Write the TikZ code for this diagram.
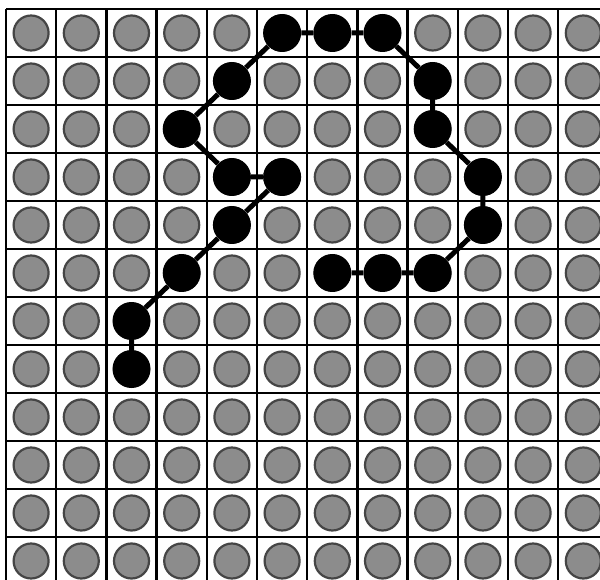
\documentclass[tikz,border=0pt]{standalone}
\definecolor{dotgray}{HTML}{8C8C8C}
\definecolor{rimgray}{HTML}{454545}
\tikzset{
  cell/.style={circle, draw=rimgray, fill=dotgray, line width=2.2pt, minimum size=35pt, inner sep=0pt},
  blackdot/.style={circle, fill=black, minimum size=38pt, inner sep=0pt},
  link/.style={line width=5pt},
  gridline/.style={line width=2.4pt}
}
\begin{document}
\begin{tikzpicture}[x=1pt,y=-1pt]
\useasboundingbox (0,0) rectangle (600,580);
\fill[white] (0,0) rectangle (600,580);
\begin{scope}
\clip (0,0) rectangle (600,580);
\foreach \c in {0,...,12} \draw[gridline] ({6+50.2*\c},9) -- ({6+50.2*\c},600);
\foreach \r in {0,...,12} \draw[gridline] (6,{9+48*\r}) -- (620,{9+48*\r});
\foreach \c in {0,...,11}
  \foreach \r in {0,...,11}
    \node[cell] (g-\c-\r) at ({6+50.2*(\c+0.5)},{9+48*(\r+0.5)}) {};
\foreach \n/\c/\r in {1/2/7,2/2/6,3/3/5,4/4/4,5/5/3,6/4/3,7/3/2,8/4/1,9/5/0,10/6/0,11/7/0,12/8/1,13/8/2,14/9/3,15/9/4,16/8/5,17/7/5,18/6/5}
  \node[blackdot] (d\n) at (g-\c-\r) {};
\draw[link] (d1) -- (d2) -- (d3) -- (d4) -- (d5) -- (d6) -- (d7) -- (d8) -- (d9) -- (d10) -- (d11) -- (d12) -- (d13) -- (d14) -- (d15) -- (d16) -- (d17) -- (d18);
\end{scope}
\end{tikzpicture}
\end{document}
